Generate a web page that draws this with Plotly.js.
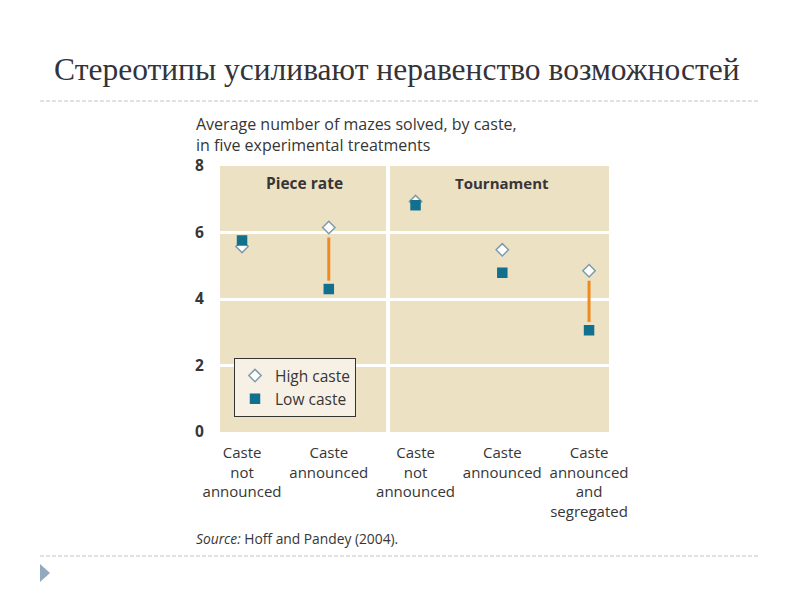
<!DOCTYPE html>
<html>
<head>
<meta charset="utf-8">
<script src="https://cdn.plot.ly/plotly-3.0.1.min.js"></script>
<style>html,body{margin:0;padding:0;background:#fff;}#chart{width:800px;height:600px;}</style>
</head>
<body>
<div id="chart"></div>
<script>
// ---- data ----
const treatments = ["Caste<br>not<br>announced", "Caste<br>announced", "Caste<br>not<br>announced", "Caste<br>announced", "Caste<br>announced<br>and<br>segregated"];
const highCaste = [5.58, 6.15, 6.93, 5.48, 4.85];
const lowCaste  = [5.76, 4.30, 6.82, 4.79, 3.06];
const showGap   = [false, true, false, false, true];
const panels = ["Piece rate", "Tournament"];
const yTicks = [0, 2, 4, 6, 8];

// ---- layout helpers ----
const L = 220, R = 609, T = 166, B = 432;
const px = x => (x - L) / (R - L);
const py = y => (B - y) / (B - T);
const xPos = treatments.map((_, i) => i);

const FONT = "'Open Sans', 'Roboto', 'Liberation Sans', sans-serif";
const TXT = "#363636";

const traces = [];
// gap lines
xPos.forEach((x, i) => {
  if (!showGap[i]) return;
  traces.push({
    x: [x, x], y: [highCaste[i] - 0.3, lowCaste[i] + 0.25],
    mode: "lines", line: {color: "#EE8A22", width: 3},
    showlegend: false, hoverinfo: "skip"
  });
});
traces.push({
  x: xPos, y: highCaste, name: "High caste", mode: "markers",
  marker: {symbol: "diamond", size: 9.5, color: "#ffffff", line: {color: "#7F9BAA", width: 1.5}}
});
traces.push({
  x: xPos, y: lowCaste, name: "Low caste", mode: "markers",
  marker: {symbol: "square", size: 10.5, color: "#12708F", line: {width: 0}}
});

const shapes = [
  // vertical divider between panels
  {type: "line", xref: "x", yref: "paper", x0: 1.683, x1: 1.683, y0: 0, y1: 1,
   line: {color: "#ffffff", width: 4}, layer: "above"},
  // slide dashed separators
  {type: "line", xref: "paper", yref: "paper", x0: px(40), x1: px(760), y0: py(101), y1: py(101),
   line: {color: "#c4c4c4", width: 1, dash: "4px,2px"}},
  {type: "line", xref: "paper", yref: "paper", x0: px(40), x1: px(760), y0: py(556), y1: py(556),
   line: {color: "#c4c4c4", width: 1, dash: "4px,2px"}},
  // bullet triangle
  {type: "path", xref: "paper", yref: "paper",
   path: `M ${px(40)} ${py(564)} L ${px(50)} ${py(573)} L ${px(40)} ${py(582)} Z`,
   fillcolor: "#93a9be", line: {width: 0}}
];

const annotations = [
  {xref: "x", yref: "paper", x: 0.72, y: py(183), text: "<b>" + panels[0] + "</b>", showarrow: false,
   font: {family: FONT, size: 15.5, color: TXT}, xanchor: "center", yanchor: "middle"},
  {xref: "x", yref: "paper", x: 3.0, y: py(183), text: "<b>" + panels[1] + "</b>", showarrow: false,
   font: {family: FONT, size: 15, color: TXT}, xanchor: "center", yanchor: "middle"},
  {xref: "paper", yref: "paper", x: px(194), y: py(111), xanchor: "left", yanchor: "top", align: "left",
   text: "Average number of mazes solved, by caste,<br>in five experimental treatments", showarrow: false,
   font: {family: FONT, size: 16, color: TXT}},
  {xref: "paper", yref: "paper", x: px(194), y: py(538), xanchor: "left", yanchor: "middle", align: "left",
   text: "<i>Source:</i> Hoff and Pandey (2004).", showarrow: false,
   font: {family: FONT, size: 13.8, color: TXT}}
];

const layout = {
  width: 800, height: 600,
  margin: {l: L, r: 800 - R, t: T, b: 600 - B, pad: 0},
  paper_bgcolor: "#ffffff", plot_bgcolor: "#EDE1C4",
  title: {text: "Стереотипы усиливают неравенство возможностей",
    font: {family: "'Liberation Serif', 'DejaVu Serif', serif", size: 31.5, color: "#333338"},
    xref: "container", yref: "container", x: 0.496, y: 1 - 69 / 600, xanchor: "center", yanchor: "middle"},
  xaxis: {range: [-0.254, 4.23], tickvals: xPos, ticktext: treatments, showgrid: false, zeroline: false,
    showline: false, ticks: "outside", ticklen: 7, tickcolor: "rgba(0,0,0,0)",
    tickfont: {family: FONT, size: 15, color: TXT}, fixedrange: true},
  yaxis: {range: [0, 8], tickvals: yTicks, showgrid: true, gridcolor: "#ffffff", gridwidth: 3,
    zeroline: false, showline: false, ticks: "outside", ticklen: 12, tickcolor: "rgba(0,0,0,0)",
    tickfont: {family: FONT, size: 15.5, color: TXT, weight: "bold"}, fixedrange: true},
  showlegend: true,
  legend: {x: px(234), y: py(358), xanchor: "left", yanchor: "top", bgcolor: "#F6F1E4",
    bordercolor: "#333333", borderwidth: 1, font: {family: FONT, size: 15.5, color: TXT},
    itemwidth: 30, tracegroupgap: 0},
  shapes: shapes, annotations: annotations,
  hovermode: false
};

Plotly.newPlot("chart", traces, layout, {displayModeBar: false, staticPlot: true});
</script>
</body>
</html>
